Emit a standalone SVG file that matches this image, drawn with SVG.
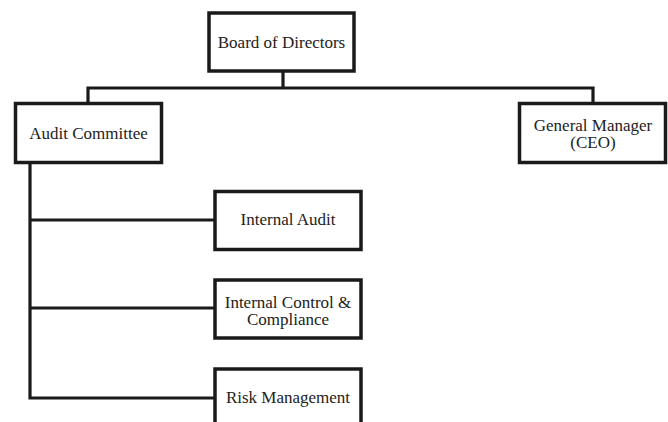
<svg xmlns="http://www.w3.org/2000/svg" width="668" height="422" viewBox="0 0 668 422">
<style>
.box{fill:#fff;stroke:#1a1a1a;stroke-width:3.5;}
.lbl{font-family:"Liberation Serif","Times New Roman",serif;font-size:17px;fill:#222;text-anchor:middle;}
.conn{fill:none;stroke:#1a1a1a;stroke-width:3.2;stroke-linejoin:miter;}
</style>
<rect width="668" height="422" fill="#fff"/>
<g id="connectors">
<path class="conn" d="M283,71 V88 M88,103 V88 H593 V103"/>
<path class="conn" d="M30,163 V398 H214 M30,220 H214 M30,308 H214"/>
</g>
<g id="board">
<rect class="box" x="209" y="13" width="145" height="58"/>
<text class="lbl" x="281.5" y="47.5">Board of Directors</text>
</g>
<g id="audit-committee">
<rect class="box" x="15.5" y="103.5" width="146" height="59"/>
<text class="lbl" x="88.5" y="139">Audit Committee</text>
</g>
<g id="general-manager">
<rect class="box" x="519.5" y="103.5" width="146" height="59"/>
<text class="lbl" x="593" y="130.5">General Manager</text>
<text class="lbl" x="593" y="147.5">(CEO)</text>
</g>
<g id="internal-audit">
<rect class="box" x="215" y="191.5" width="146" height="58"/>
<text class="lbl" x="288" y="225">Internal Audit</text>
</g>
<g id="internal-control">
<rect class="box" x="215" y="280" width="146" height="58"/>
<text class="lbl" x="288" y="307.5">Internal Control &amp;</text>
<text class="lbl" x="288" y="324.5">Compliance</text>
</g>
<g id="risk-management">
<rect class="box" x="215" y="369" width="146" height="62"/>
<text class="lbl" x="288" y="403">Risk Management</text>
</g>
</svg>
